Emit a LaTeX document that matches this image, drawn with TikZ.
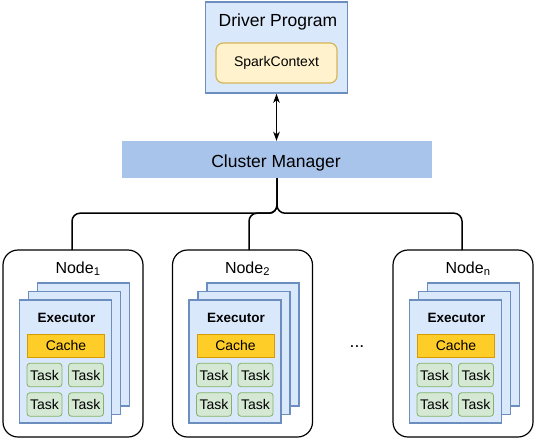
\documentclass[tikz,border=0pt]{standalone}
\usepackage{fontspec}
\setmainfont{Liberation Sans}
\usepackage{tikz}
\usetikzlibrary{arrows.meta}

\definecolor{azulFundo}{HTML}{DAE8FC}
\definecolor{azulBorda}{HTML}{6C8EBF}
\definecolor{azulGerente}{HTML}{A9C4EB}
\definecolor{amareloFundo}{HTML}{FFF2CC}
\definecolor{amareloBorda}{HTML}{D6B656}
\definecolor{cacheFundo}{HTML}{FFCD28}
\definecolor{cacheBorda}{HTML}{D79B00}
\definecolor{verdeFundo}{HTML}{D5E8D4}
\definecolor{verdeBorda}{HTML}{82B366}

\begin{document}
\begin{tikzpicture}[x=1pt, y=-1pt, >={Stealth[length=9pt, width=6.5pt, inset=2.5pt]},
    grande/.style={font=\fontsize{17.5}{20}\selectfont},
    pequeno/.style={font=\fontsize{14}{16}\selectfont},
    driverbox/.style={draw=azulBorda, fill=azulFundo, line width=1.5pt, minimum width=142pt, minimum height=91pt, inner sep=0pt},
    sparkbox/.style={draw=amareloBorda, fill=amareloFundo, line width=1.2pt, rounded corners=7pt, minimum width=121pt, minimum height=40pt, inner sep=0pt, pequeno},
    gerente/.style={fill=azulGerente, minimum width=310pt, minimum height=37pt, inner sep=0pt},
    maquina/.style={draw, fill=white, line width=1.2pt, rounded corners=15pt, minimum width=140pt, minimum height=187pt, inner sep=0pt},
    folha/.style={draw=azulBorda, fill=azulFundo, line width=1.2pt, minimum width=92pt, minimum height=123pt, inner sep=0pt},
    cachebox/.style={draw=cacheBorda, fill=cacheFundo, line width=0.8pt, minimum width=77pt, minimum height=23pt, inner sep=0pt, pequeno},
    tarefa/.style={draw=verdeBorda, fill=verdeFundo, line width=0.8pt, rounded corners=3pt, minimum width=35pt, minimum height=23.5pt, inner sep=0pt, pequeno},
    ligacao/.style={draw, line width=1.5pt, rounded corners=8pt}]
    \useasboundingbox (0,0) rectangle (543,439);

    % Programa driver
    \node[driverbox] (driver) at (276.5,47.5) {};
    \node[grande, anchor=base] (drivertxt) at (278,26) {Driver Program};
    \node[sparkbox] (spark) at (276.5,63) {SparkContext};

    % Gerente do cluster
    \node[gerente] (cm) at (277,159.5) {};
    \node[grande, anchor=base] (cmtxt) at (276,167) {Cluster Manager};
    \draw[<->, line width=1.5pt] (driver.south) -- (driver.south |- cm.north);

    % Nos de trabalho
    \foreach \i/\cx/\tx/\sub in {1/73/72/1, 2/242.5/249/2, 3/463/462/n} {
        \node[maquina] (node\i) at (\cx,343.5) {};
        \node[font=\fontsize{16}{18}\selectfont, anchor=base] (lab\i) at (\cx+5,273) {Node\textsubscript{\sub}};
        \coordinate (top\i) at (\tx,250);
        \draw[ligacao] (cm.south) -- ++(0,35) -| (top\i);
        % executores empilhados
        \node[folha] (back\i) at (\cx+10.5,344.5) {};
        \node[folha] (mid\i) at (\cx+1.5,353) {};
        \node[folha] (exec\i) at (\cx-7.5,361.5) {};
        \node[font=\fontsize{13.5}{16}\selectfont\bfseries] (exectxt\i) at (\cx-6.5,317.5) {Executor};
        \node[cachebox] (cache\i) at (\cx-7,345.5) {Cache};
        \node[tarefa] (ta\i) at (\cx-28.5,375) {Task};
        \node[tarefa] (tb\i) at (\cx+13,375) {Task};
        \node[tarefa] (tc\i) at (\cx-28.5,404.5) {Task};
        \node[tarefa] (td\i) at (\cx+13,404.5) {Task};
    }

    % Reticencias
    \node[grande] (dots) at (357,347) {...};
\end{tikzpicture}
\end{document}
